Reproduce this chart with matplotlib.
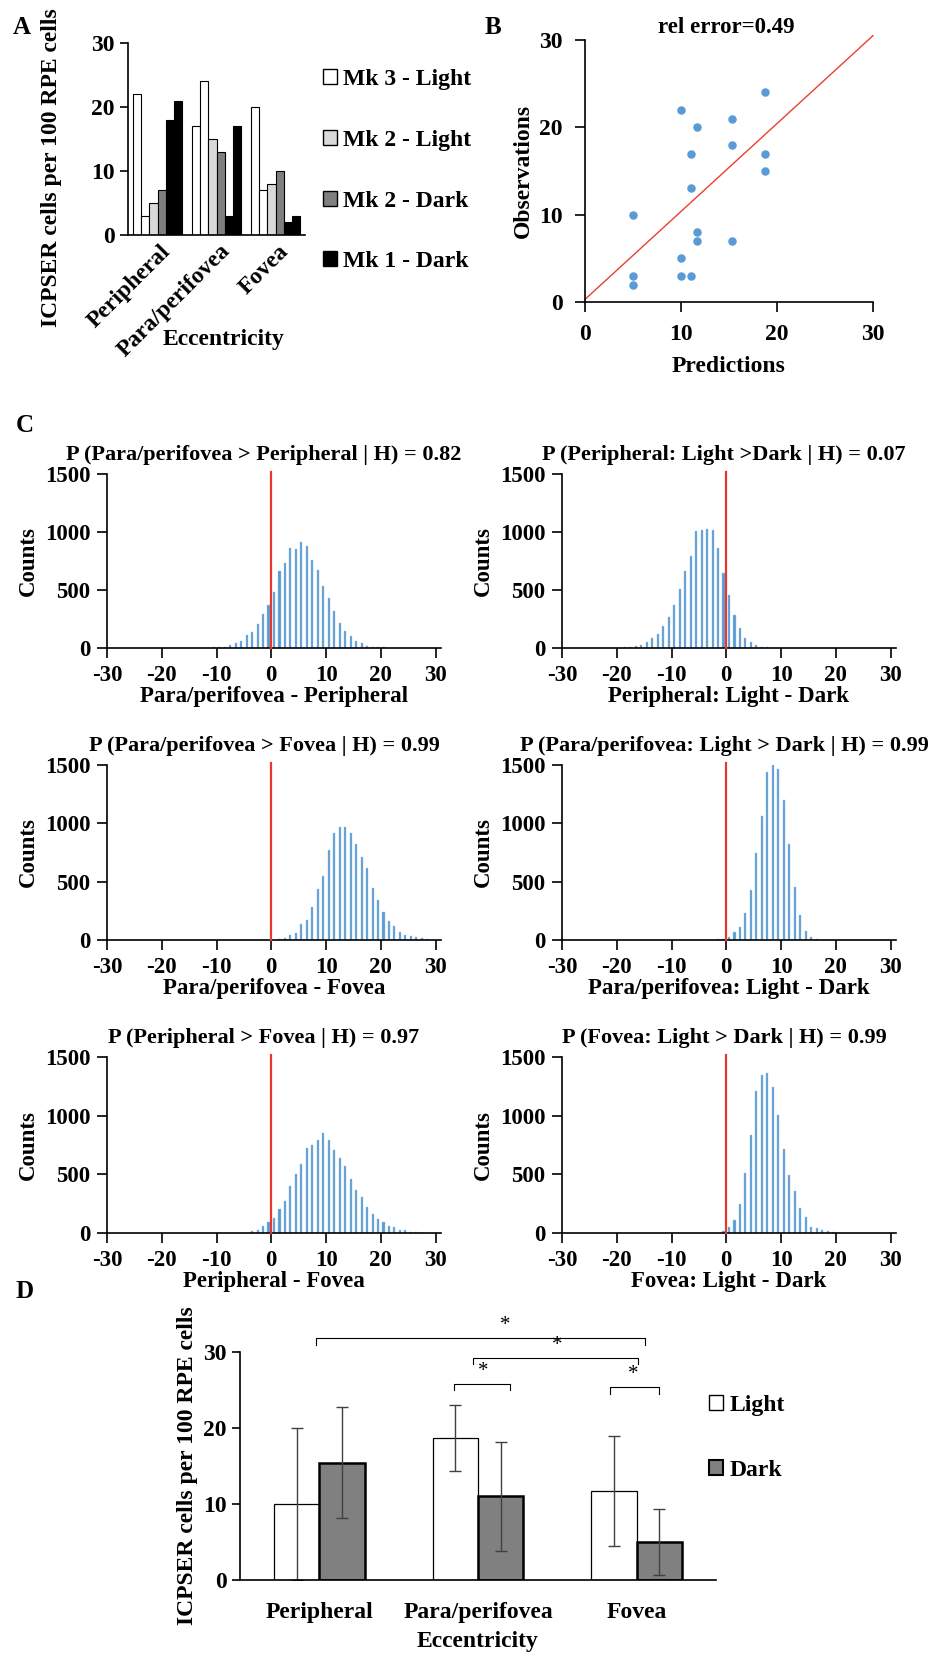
import numpy as np
import matplotlib
matplotlib.use('Agg')
import matplotlib.pyplot as plt
from matplotlib.patches import Patch

plt.rcParams['font.family'] = ['Liberation Serif', 'DejaVu Serif']
plt.rcParams['font.weight'] = 'bold'
plt.rcParams['axes.labelweight'] = 'bold'
plt.rcParams['axes.titleweight'] = 'bold'
plt.rcParams['font.size'] = 16
plt.rcParams['axes.linewidth'] = 1.2

W, H = 933, 1659

# ---- data ----
regions = ['Peripheral', 'Para/perifovea', 'Fovea']
# panel A, one list per bar within a group
mk3_light_a = [22, 17, 20]
mk3_light_b = [3, 24, 7]
mk2_light = [5, 15, 8]
mk2_dark = [7, 13, 10]
mk1_dark_a = [18, 3, 2]
mk1_dark_b = [21, 17, 3]

# panel B
pred = [10.0, 10.0, 10.0, 15.3, 15.3, 15.3, 18.7, 18.7, 18.7,
        11.0, 11.0, 11.0, 11.7, 11.7, 11.7, 5.0, 5.0, 5.0]
obs = [22, 3, 5, 7, 18, 21, 17, 24, 15,
       13, 3, 17, 20, 8, 7, 10, 2, 3]

# panel C, counts per unit bin, first bin centre given
h1_start = -10.5
h1 = [5, 5, 10, 23, 40, 60, 113, 139, 205, 295, 373, 486, 668, 731, 861, 855,
      910, 879, 757, 670, 532, 434, 315, 217, 150, 101, 64, 40, 20, 12, 6, 5]
h2_start = -19.5
h2 = [4, 6, 11, 17, 30, 50, 88, 124, 193, 265, 370, 511, 666, 793, 1011, 1017,
      1028, 1019, 859, 644, 455, 285, 170, 90, 50, 25, 12, 5]
h3_start = 1.5
h3 = [5, 14, 39, 58, 133, 175, 283, 436, 547, 769, 917, 969, 967, 917, 822,
      708, 617, 450, 342, 242, 161, 117, 69, 44, 31, 22, 14, 5]
h4_start = -2.5
h4 = [4, 5, 6, 27, 70, 112, 230, 432, 750, 1060, 1440, 1500, 1470, 1200, 825,
      452, 211, 76, 22, 8]
h5_start = -4.5
h5 = [3, 17, 29, 57, 91, 126, 203, 271, 400, 506, 586, 726, 754, 794, 851, 789,
      706, 637, 571, 457, 369, 306, 220, 166, 120, 97, 60, 49, 23, 23, 6, 12]
h6_start = -1.5
h6 = [3, 14, 54, 109, 243, 509, 831, 1209, 1349, 1366, 1243, 1009, 714, 497,
      354, 209, 140, 54, 43, 29, 14, 6]

hist_titles = ['P (Para/perifovea > Peripheral | H) = 0.82',
               'P (Peripheral: Light >Dark | H) = 0.07',
               'P (Para/perifovea > Fovea | H) = 0.99',
               'P (Para/perifovea: Light > Dark | H) = 0.99',
               'P (Peripheral > Fovea | H) = 0.97',
               'P (Fovea: Light > Dark | H) = 0.99']
hist_xlabels = ['Para/perifovea - Peripheral', 'Peripheral: Light - Dark',
                'Para/perifovea - Fovea', 'Para/perifovea: Light - Dark',
                'Peripheral - Fovea', 'Fovea: Light - Dark']

# panel D
light_mean = [10.0, 18.7, 11.7]
light_err = [10.0, 4.35, 7.2]
dark_mean = [15.4, 11.0, 5.0]
dark_err = [7.3, 7.2, 4.4]


fig = plt.figure(figsize=(W / 100, H / 100), dpi=100)


def ax_px(l, t, r, b):
    return fig.add_axes([l / W, 1 - b / H, (r - l) / W, (b - t) / H])


def style(ax, length=6):
    ax.spines['top'].set_visible(False)
    ax.spines['right'].set_visible(False)
    ax.tick_params(direction='out', length=length, width=1.2)


# ---- A ----
axA = ax_px(128, 43, 305, 235)
style(axA)
x = np.arange(3)
bw = 0.136
series = [(mk3_light_a, 'white'), (mk3_light_b, 'white'), (mk2_light, '#d9d9d9'),
          (mk2_dark, '#7f7f7f'), (mk1_dark_a, 'black'), (mk1_dark_b, 'black')]
for i, (vals, c) in enumerate(series):
    axA.bar(x + (i - 2.5) * bw, vals, bw, color=c, edgecolor='black', linewidth=0.8)
axA.set_xlim(-0.5, 2.5)
axA.set_ylim(0, 30)
axA.set_yticks([0, 10, 20, 30])
axA.tick_params(axis='y', labelsize=17)
axA.set_xticks(x + 0.05)
axA.set_xticklabels(regions, rotation=45, ha='right', rotation_mode='anchor', fontsize=17)
axA.tick_params(axis='x', length=0, pad=4)
fig.text(52 / W, 1 - 168 / H, 'ICPSER cells per 100 RPE cells', rotation=90,
         ha='center', va='center', fontsize=17)
fig.text(224 / W, 1 - 340 / H, 'Eccentricity', ha='center', va='center', fontsize=17)
handles = [Patch(facecolor='white', edgecolor='black'),
           Patch(facecolor='#d9d9d9', edgecolor='black'),
           Patch(facecolor='#7f7f7f', edgecolor='black'),
           Patch(facecolor='black', edgecolor='black')]
fig.legend(handles, ['Mk 3 - Light', 'Mk 2 - Light', 'Mk 2 - Dark', 'Mk 1 - Dark'],
           loc='upper left', bbox_to_anchor=(302 / W, 1 - 48 / H), frameon=False,
           fontsize=17, handlelength=0.6, handleheight=0.6, handletextpad=0.25,
           labelspacing=1.68)

# ---- B ----
axB = ax_px(585, 40, 873, 302)
style(axB, 7)
axB.scatter(pred, obs, s=26, color='#5b9bd5', zorder=3)
axB.plot([0, 30], [0.3, 30.5], color='#e8412c', linewidth=1, clip_on=False)
axB.set_xlim(0, 30)
axB.set_ylim(0, 30)
axB.set_xticks([0, 10, 20, 30])
axB.set_yticks([0, 10, 20, 30])
axB.tick_params(labelsize=17, pad=9)
axB.set_xlabel('Predictions', fontsize=17, labelpad=8)
axB.set_ylabel('Observations', fontsize=17, labelpad=4)
axB.set_title('rel error=0.49', fontsize=16.5, pad=5, x=0.49)

# ---- C ----
hists = [(h1_start, h1), (h2_start, h2), (h3_start, h3),
         (h4_start, h4), (h5_start, h5), (h6_start, h6)]
cols = [(107, 441), (562, 896)]
rows = [(474, 648), (765, 940), (1057, 1233)]
for k, (start, counts) in enumerate(hists):
    l, r = cols[k % 2]
    t, b = rows[k // 2]
    ax = ax_px(l, t, r, b)
    style(ax, 7)
    centers = start + np.arange(len(counts))
    ax.bar(centers, counts, 0.38, color='#5b9bd5', edgecolor='#9dc3e6', linewidth=0.3)
    ax.plot([0, 0], [0, 1520], color='#e8382e', linewidth=1.6, clip_on=False, zorder=3)
    ax.set_xlim(-30, 31)
    ax.set_ylim(0, 1500)
    ax.set_xticks([-30, -20, -10, 0, 10, 20, 30])
    ax.set_xticklabels(['-30', '-20', '-10', '0', '10', '20', '30'])
    ax.set_yticks([0, 500, 1000, 1500])
    ax.tick_params(labelsize=16.5, pad=5)
    ax.set_title(hist_titles[k], fontsize=16, pad=10, x=0.47 if k % 2 == 0 else 0.485)
    ax.set_xlabel(hist_xlabels[k], fontsize=16.5, labelpad=0)
    ax.set_ylabel('Counts', fontsize=16.5, labelpad=4)

# ---- D ----
axD = ax_px(240, 1352, 716, 1580)
style(axD)
dw = 0.285
axD.bar(x - dw / 2, light_mean, dw, color='white', edgecolor='black', linewidth=0.9)
axD.bar(x + dw / 2, dark_mean, dw, color='#808080', edgecolor='black', linewidth=1.8)
axD.errorbar(x - dw / 2, light_mean, yerr=light_err, fmt='none', ecolor='#404040',
             elinewidth=1, capsize=4, capthick=1)
axD.errorbar(x + dw / 2, dark_mean, yerr=dark_err, fmt='none', ecolor='#404040',
             elinewidth=1, capsize=4, capthick=1)
axD.set_xlim(-0.5, 2.5)
axD.set_ylim(0, 30)
axD.set_yticks([0, 10, 20, 30])
axD.set_xticks(x)
axD.set_xticklabels(regions, fontsize=17)
axD.tick_params(axis='x', length=0, pad=16)
axD.tick_params(axis='y', labelsize=17)
axD.set_ylabel('ICPSER cells per 100 RPE cells', fontsize=17, labelpad=4)
fig.text(478 / W, 1 - 1641 / H, 'Eccentricity', ha='center', va='center', fontsize=17)

brackets = [(-0.02, 2.05, 31.8, 30.9, 1.17, 32.2),
            (0.97, 2.01, 29.25, 28.4, 1.5, 29.6),
            (0.85, 1.2, 25.8, 25.0, 1.03, 26.2),
            (1.83, 2.14, 25.4, 24.5, 1.98, 25.8)]
for x0, x1, yt, yb, xs, ys in brackets:
    axD.plot([x0, x0, x1, x1], [yb, yt, yt, yb], color='black', linewidth=0.8, clip_on=False)
    axD.text(xs, ys, '*', ha='center', va='bottom', fontsize=15, fontweight='normal')

fig.legend([Patch(facecolor='white', edgecolor='black'),
            Patch(facecolor='#808080', edgecolor='black', linewidth=1.5)],
           ['Light', 'Dark'], loc='upper left', bbox_to_anchor=(688 / W, 1 - 1374 / H),
           frameon=False, fontsize=17, handlelength=0.6, handleheight=0.6,
           handletextpad=0.25, labelspacing=1.85)

# panel letters
for s, px, py in [('A', 22, 27), ('B', 493, 27), ('C', 25, 425), ('D', 25, 1292)]:
    fig.text(px / W, 1 - py / H, s, fontsize=18, ha='center', va='center')

fig.savefig('out.png', dpi=100)
